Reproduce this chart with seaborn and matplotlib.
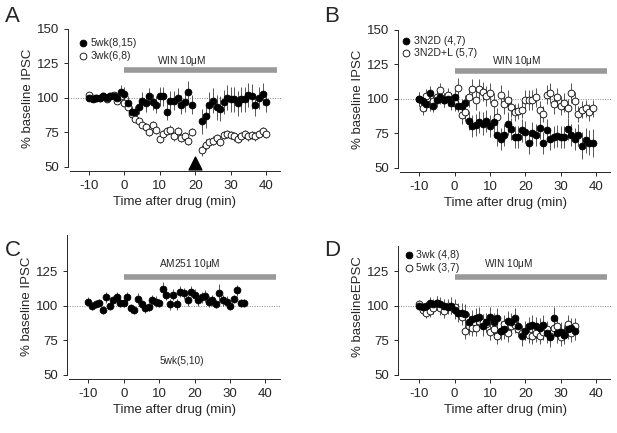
import numpy as np
import matplotlib
matplotlib.use('Agg')
import matplotlib.pyplot as plt
import seaborn as sns

# 1. Data (% baseline, time in min)
# Panel A
a_t_pre = list(range(-10, 20))
a_t_post = list(range(22, 41))
a_5wk = [100, 99, 100, 100, 101, 100, 101, 101, 100, 104,
         103, 96, 90, 90, 93, 98, 96, 101, 97, 95,
         101, 101, 90, 98, 98, 100, 95, 97, 104, 95,
         83, 87, 95, 98, 93, 92, 97, 100, 99, 99,
         96, 99, 99, 102, 101, 95, 100, 103, 97]
a_5wk_err = [2, 2, 2, 2, 2, 2, 2, 2, 3, 5,
             5, 5, 4, 4, 5, 6, 6, 6, 6, 6,
             7, 7, 6, 7, 7, 7, 7, 7, 8, 7,
             9, 9, 9, 9, 9, 9, 9, 9, 9, 9,
             9, 9, 9, 9, 9, 8, 8, 8, 7]
a_3wk = [102, 100, 100, 100, 101, 99, 101, 102, 98, 101,
         96, 93, 88, 85, 83, 80, 79, 75, 80, 77,
         70, 74, 76, 77, 72, 76, 71, 72, 69, 75,
         62, 66, 68, 69, 71, 68, 73, 74, 73, 72,
         70, 72, 74, 72, 73, 72, 74, 76, 74]
a_3wk_err = [2, 1, 1, 1, 1, 1, 1, 1, 2, 2,
             2, 2, 2, 2, 2, 2, 3, 3, 3, 3,
             3, 3, 3, 3, 3, 3, 3, 3, 3, 3,
             4, 4, 3, 3, 3, 3, 3, 3, 3, 3,
             3, 3, 3, 3, 3, 3, 3, 3, 3]

# Panel B
b_t = list(range(-10, 40))
b_3n2d = [100, 98, 96, 104, 95, 99, 101, 99, 100, 97,
          101, 95, 95, 97, 84, 80, 81, 83, 82, 84,
          80, 83, 74, 71, 74, 82, 78, 72, 72, 77,
          76, 68, 75, 74, 79, 68, 77, 71, 72, 73,
          72, 72, 78, 74, 71, 74, 66, 70, 68, 68]
b_3n2d_err = [5, 5, 5, 5, 5, 5, 5, 5, 5, 5,
              5, 5, 5, 6, 7, 8, 8, 8, 8, 8,
              8, 8, 8, 8, 8, 8, 8, 8, 8, 8,
              8, 8, 8, 8, 8, 8, 8, 8, 8, 8,
              8, 8, 8, 8, 8, 8, 10, 9, 9, 10]
b_3n2dl = [100, 93, 102, 96, 98, 101, 106, 99, 103, 99,
           97, 108, 88, 90, 101, 107, 99, 107, 105, 102,
           104, 97, 87, 103, 96, 99, 94, 90, 91, 92,
           99, 99, 99, 101, 92, 89, 103, 104, 96, 101,
           95, 97, 93, 104, 98, 89, 92, 93, 90, 93]
b_3n2dl_err = [5, 5, 5, 5, 5, 5, 5, 5, 5, 5,
               6, 7, 6, 6, 7, 7, 7, 7, 7, 7,
               7, 7, 6, 7, 7, 7, 7, 6, 6, 6,
               7, 7, 7, 7, 6, 6, 7, 7, 7, 7,
               7, 7, 7, 7, 7, 6, 6, 6, 6, 6]

# Panel C
c_t = list(range(-10, 35))
c_5wk = [103, 100, 101, 102, 97, 106, 100, 104, 106, 102,
         102, 106, 98, 97, 105, 101, 98, 99, 104, 103,
         102, 112, 108, 101, 108, 101, 110, 109, 104, 110,
         108, 104, 106, 107, 103, 104, 101, 109, 104, 103,
         100, 105, 111, 102, 102]
c_5wk_err = [3, 3, 3, 3, 3, 4, 3, 3, 4, 3,
             3, 4, 3, 3, 4, 3, 3, 3, 4, 4,
             3, 5, 4, 4, 4, 4, 4, 4, 4, 4,
             4, 4, 4, 4, 4, 4, 3, 7, 4, 4,
             3, 3, 4, 3, 3]

# Panel D
d_t = list(range(-10, 35))
d_3wk = [100, 99, 100, 102, 101, 102, 101, 100, 99, 100,
         97, 95, 95, 94, 88, 90, 91, 92, 85, 88,
         92, 88, 91, 82, 83, 89, 88, 91, 85, 78,
         82, 85, 86, 85, 84, 86, 80, 77, 91, 80,
         81, 79, 83, 84, 82]
d_3wk_err = [3, 3, 3, 4, 4, 5, 5, 5, 5, 6,
             7, 7, 7, 7, 7, 7, 7, 7, 7, 7,
             7, 7, 7, 7, 7, 7, 7, 7, 7, 7,
             7, 7, 7, 7, 7, 7, 7, 7, 8, 7,
             7, 7, 7, 7, 7]
d_5wk = [101, 97, 95, 96, 98, 102, 98, 96, 100, 99,
         99, 95, 92, 82, 85, 84, 84, 89, 88, 87,
         81, 83, 78, 82, 87, 80, 85, 86, 83, 80,
         81, 79, 78, 80, 78, 81, 83, 78, 84, 85,
         77, 79, 87, 80, 85]
d_5wk_err = [3, 4, 4, 4, 4, 5, 5, 5, 5, 5,
             6, 6, 6, 6, 6, 6, 6, 6, 6, 6,
             6, 6, 6, 6, 6, 6, 6, 6, 6, 6,
             6, 6, 6, 6, 6, 6, 6, 6, 6, 6,
             6, 6, 6, 6, 6]

# 2. Style
sns.set_style('ticks')
plt.rcParams['font.family'] = ['Liberation Sans', 'DejaVu Sans']
plt.rcParams['mathtext.default'] = 'regular'
plt.rcParams['axes.unicode_minus'] = False

fig = plt.figure(figsize=(6.17, 4.33), dpi=100)
ax_a = fig.add_axes([0.110, 0.605, 0.347, 0.335])
ax_b = fig.add_axes([0.645, 0.603, 0.347, 0.335])
ax_c = fig.add_axes([0.109, 0.125, 0.347, 0.335])
ax_d = fig.add_axes([0.645, 0.125, 0.347, 0.335])

MS = 24


def plot_series(ax, t, y, err, filled):
    ax.errorbar(t, y, yerr=err, fmt='none', ecolor='#555555', elinewidth=0.7, zorder=2)
    sns.scatterplot(x=t, y=y, ax=ax, s=MS, marker='o',
                    color='black' if filled else 'white',
                    edgecolor='black', linewidth=0.6, zorder=3, legend=False)


def style_axis(ax, ylabel, yticks, ytop, drug, drug_y, drug_text_x, drug_text_y):
    ax.set_xlim(-16, 44.5)
    ax.set_ylim(47, 152)
    ax.axhline(100, color='#888888', ls=(0, (1, 1.5)), lw=0.7, zorder=1)
    ax.plot([0, 43], [drug_y, drug_y], color='#999999', lw=4, solid_capstyle='butt', zorder=1)
    ax.text(drug_text_x, drug_text_y, drug, fontsize=7.3, ha='center', va='center')
    ax.set_xticks([-10, 0, 10, 20, 30, 40])
    ax.set_yticks(yticks)
    ax.tick_params(labelsize=9.5, length=3, width=0.7)
    ax.set_xlabel('Time after drug (min)', fontsize=9.5, labelpad=3)
    ax.set_ylabel(ylabel, fontsize=9.5, labelpad=2)
    sns.despine(ax=ax)
    ax.spines['left'].set_bounds(50, ytop)
    ax.spines['bottom'].set_bounds(-15.5, 44)
    for s in ['left', 'bottom']:
        ax.spines[s].set_linewidth(0.7)


def legend_entry(ax, x, y, label, filled):
    ax.scatter([x], [y], s=MS, color='black' if filled else 'white',
               edgecolor='black', linewidth=0.6, zorder=4)
    ax.text(x + 2, y, label, fontsize=7.6, va='center', ha='left')


# 3. Panel A
plot_series(ax_a, a_t_pre + a_t_post, a_3wk, a_3wk_err, filled=False)
plot_series(ax_a, a_t_pre + a_t_post, a_5wk, a_5wk_err, filled=True)
style_axis(ax_a, '% baseline IPSC', [50, 75, 100, 125, 150], 150,
           r'WIN 10$\mu$M', 120, 16, 127)
legend_entry(ax_a, -11.7, 140, '5wk(8,15)', True)
legend_entry(ax_a, -11.7, 130, '3wk(6,8)', False)
ax_a.scatter([20], [53], marker='^', s=85, color='black', zorder=5)

# 4. Panel B
plot_series(ax_b, b_t, b_3n2dl, b_3n2dl_err, filled=False)
plot_series(ax_b, b_t, b_3n2d, b_3n2d_err, filled=True)
style_axis(ax_b, '% baseline IPSC', [50, 75, 100, 125, 150], 150,
           r'WIN 10$\mu$M', 120, 17.5, 127)
legend_entry(ax_b, -13.6, 142, '3N2D (4,7)', True)
legend_entry(ax_b, -13.6, 133, '3N2D+L (5,7)', False)

# 5. Panel C
plot_series(ax_c, c_t, c_5wk, c_5wk_err, filled=True)
style_axis(ax_c, '% baseline IPSC', [50, 75, 100, 125], 151,
           r'AM251 10$\mu$M', 120.5, 18.5, 130)
ax_c.text(16.5, 60, '5wk(5,10)', fontsize=7.3, ha='center', va='center')

# 6. Panel D
plot_series(ax_d, d_t, d_5wk, d_5wk_err, filled=False)
plot_series(ax_d, d_t, d_3wk, d_3wk_err, filled=True)
style_axis(ax_d, '% baselineEPSC', [50, 75, 100, 125], 143,
           r'WIN 10$\mu$M', 121, 15.3, 130)
legend_entry(ax_d, -13, 137, '3wk (4,8)', True)
legend_entry(ax_d, -13, 127, '5wk (3,7)', False)

# 7. Panel letters
for x, y, letter in [(0.008, 0.985, 'A'), (0.525, 0.985, 'B'),
                     (0.008, 0.445, 'C'), (0.525, 0.445, 'D')]:
    fig.text(x, y, letter, fontsize=16, ha='left', va='top')

plt.savefig('out.png', dpi=100)
plt.close()
